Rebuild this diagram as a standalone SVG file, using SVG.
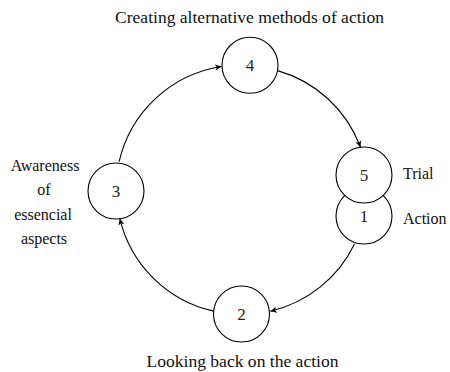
<svg xmlns="http://www.w3.org/2000/svg" width="450" height="372" viewBox="0 0 450 372">
<style>
.node circle{fill:#fff;stroke:#000;stroke-width:1.1}
text{font-family:'Liberation Serif','Times New Roman',serif}
.num{fill:#222;text-anchor:middle;font-size:17px}
.lbl{fill:#111;font-size:17px}
.side{font-size:16px}
.mid{text-anchor:middle}
.edge{fill:none;stroke:#000;stroke-width:1.1;marker-end:url(#arr)}
</style>
<defs>
<marker id="arr" viewBox="-7 -4 8 8" refX="0" refY="0" markerWidth="8" markerHeight="8" markerUnits="userSpaceOnUse" orient="auto">
<path d="M0,0 L-6.5,-3 L-4.8,0 L-6.5,3 Z" fill="#000"/>
</marker>
</defs>
<rect width="450" height="372" fill="#fff"/>
<g id="connectors">
<path class="edge" d="M119.1,161.7 A124.5,124.5 0 0 1 221.6,66.5"/>
<path class="edge" d="M277.5,70.6 A124.5,124.5 0 0 1 360.5,147.3"/>
<path class="edge" d="M354.5,244 A124.5,124.5 0 0 1 270.3,311.2"/>
<path class="edge" d="M213.6,311.1 A124.5,124.5 0 0 1 119.8,218.6"/>
</g>
<g id="node4" class="node"><circle cx="250" cy="65.3" r="28"/><text class="num" x="250" y="71">4</text></g>
<g id="node3" class="node"><circle cx="116" cy="191" r="28"/><text class="num" x="116" y="197">3</text></g>
<g id="node2" class="node"><circle cx="241.5" cy="314" r="28"/><text class="num" x="241.5" y="320">2</text></g>
<g id="node1" class="node"><circle cx="364" cy="216" r="28"/><text class="num" x="364" y="222">1</text></g>
<g id="node5" class="node"><circle cx="364" cy="175" r="28"/><text class="num" x="364" y="181">5</text></g>
<g id="labels">
<text class="lbl mid" x="249.5" y="22.5" textLength="269" lengthAdjust="spacingAndGlyphs">Creating alternative methods of action</text>
<text class="lbl mid" x="242.5" y="366.5" textLength="192" lengthAdjust="spacingAndGlyphs">Looking back on the action</text>
<text class="lbl side mid" x="45" y="170.5">Awareness</text>
<text class="lbl side mid" x="44" y="195">of</text>
<text class="lbl side mid" x="43" y="219.5">essencial</text>
<text class="lbl side mid" x="44" y="244">aspects</text>
<text class="lbl side" x="403" y="179">Trial</text>
<text class="lbl side" x="403" y="224">Action</text>
</g>
</svg>
